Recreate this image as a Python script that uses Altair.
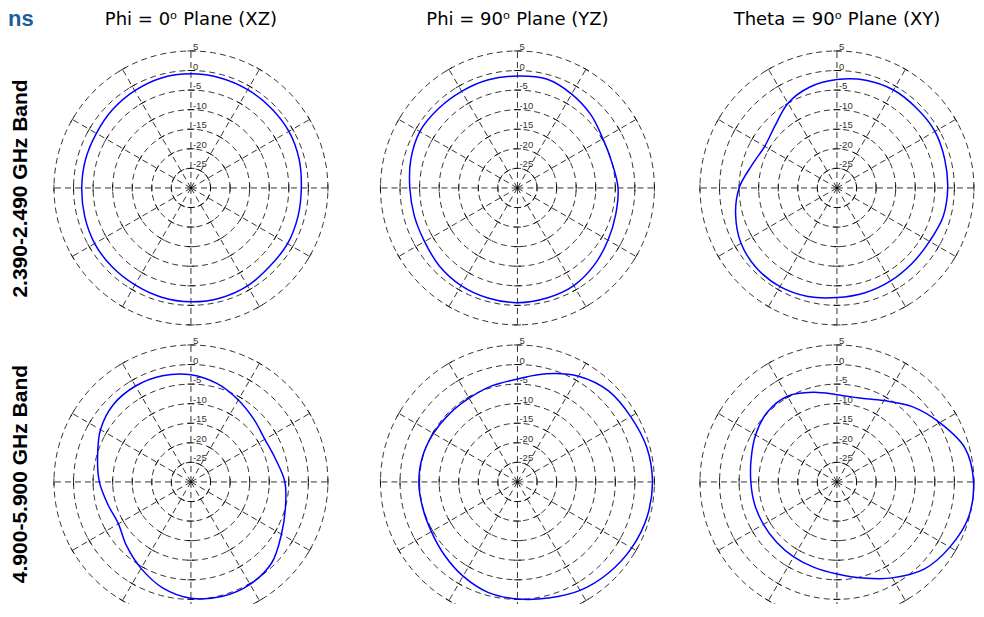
import altair as alt
import numpy as np
import pandas as pd

# ---------------- data (gain in dB) ----------------
ANGLES = list(range(0, 360, 15))  # degrees, counter-clockwise from +x (east)

P_24_XZ = [-1.8, -1.4, -1.1, -1.1, -1.0, -0.9, -0.85, -0.9, -1.3, -1.7, -2.1, -2.1,
           -2.1, -1.9, -1.6, -1.5, -1.4, -1.1, -0.9, -0.9, -1.1, -1.6, -1.5, -1.7]
P_24_YZ = [-4.3, -5.0, -4.8, -3.5, -2.3, -1.2, -1.4, -1.4, -1.5, -1.4, -1.2, -1.8,
           -2.5, -2.7, -2.6, -1.8, -1.2, -0.9, -0.7, -0.9, -1.2, -2.2, -3.3, -4.0]
P_24_XY = [-1.7, -1.5, -1.1, -1.2, -1.1, -1.5, -2.3, -3.3, -5.0, -7.6, -8.7, -7.5,
           -5.0, -3.2, -1.7, -1.0, -0.9, -1.3, -2.0, -2.3, -2.6, -2.8, -2.7, -1.9]
P_5_XZ = [-6.0, -7.6, -8.2, -7.3, -5.8, -4.0, -2.6, -1.9, -1.7, -2.0, -3.3, -5.3,
          -6.6, -8.0, -8.6, -6.8, -4.5, -2.0, -0.3, 0.3, 0.2, -0.8, -3.3, -5.0]
P_5_YZ = [4.5, 4.2, 3.4, 2.9, 1.2, -1.4, -3.7, -4.6, -5.3, -5.4, -5.2, -4.9,
          -4.8, -4.9, -4.6, -3.6, -2.2, -0.8, -0.1, 0.7, 2.0, 2.9, 3.7, 4.3]
P_5_XY = [4.9, 3.8, 0.3, -2.8, -6.0, -7.8, -7.7, -6.3, -4.7, -4.8, -6.0, -7.3,
          -8.0, -8.2, -8.3, -8.2, -7.9, -7.4, -6.5, -4.6, -1.7, 1.5, 3.3, 4.8]

PATTERNS = [[P_24_XZ, P_24_YZ, P_24_XY], [P_5_XZ, P_5_YZ, P_5_XY]]

RINGS = [-25, -20, -15, -10, -5, 0, 5]
RING_LABELS = ["-25", "-20", "-15", "-10", "-5", "0", "5"]
SPOKES = list(range(0, 360, 30))
FLOOR = -30  # dB at the centre

COL_TITLES = ["Phi = 0ᵒ Plane (XZ)", "Phi = 90ᵒ Plane (YZ)", "Theta = 90ᵒ Plane (XY)"]
ROW_TITLES = ["2.390-2.490 GHz Band", "4.900-5.900 GHz  Band"]
CORNER_TEXT = "ns"

# ---------------- geometry helpers ----------------
PPU = 3.914  # pixels per dB


def polar(db, deg):
    u = db - FLOOR
    t = np.deg2rad(deg)
    return u * np.cos(t), u * np.sin(t)


circ_rows = []
for r in RINGS:
    for k, t in enumerate(range(0, 361, 3)):
        x, y = polar(r, t)
        circ_rows.append({"r": r, "t": k, "x": x, "y": y})
circ_df = pd.DataFrame(circ_rows)

rad_rows = []
for a in SPOKES:
    x2, y2 = polar(RINGS[-1], a)
    rad_rows.append({"x": 0.0, "y": 0.0, "x2": x2, "y2": y2})
rad_df = pd.DataFrame(rad_rows)

tick_rows = []
H = 0.9
for a in SPOKES:
    t = np.deg2rad(a)
    px, py = -np.sin(t), np.cos(t)
    for r in RINGS:
        cx, cy = polar(r, a)
        tick_rows.append({"x": cx - H * px, "y": cy - H * py,
                          "x2": cx + H * px, "y2": cy + H * py})
tick_df = pd.DataFrame(tick_rows)

lab_df = pd.DataFrame({"x": [0.0] * len(RINGS),
                       "y": [r - FLOOR for r in RINGS],
                       "label": RING_LABELS})

XDOM = [[-35.5, 37.2], [-35.5, 35.5], [-35.5, 35.5]]
YDOM = [[-35.5, 35.5], [-31.2, 35.5]]
TITLE_OFFSET = [-30, 4, 4]


def panel(row, col):
    vals = PATTERNS[row][col]
    xs, ys = zip(*[polar(v, a) for v, a in zip(vals, ANGLES)])
    curve_df = pd.DataFrame({"i": list(range(len(vals))), "x": xs, "y": ys})

    xsc = alt.Scale(domain=XDOM[col], nice=False, zero=False)
    ysc = alt.Scale(domain=YDOM[row], nice=False, zero=False)
    if col == 0:
        yax = alt.Axis(title=ROW_TITLES[row], labels=False, ticks=False, domain=False,
                       grid=False, titleFont="Liberation Sans", titleFontSize=21,
                       titleFontWeight="bold", titleColor="black", titlePadding=22)
    else:
        yax = None
    X = alt.X("x:Q", scale=xsc, axis=None)
    Y = alt.Y("y:Q", scale=ysc, axis=yax)

    circles = alt.Chart(circ_df).mark_line(
        color="black", strokeWidth=0.8, strokeDash=[6, 4], clip=True
    ).encode(x=X, y=Y, detail="r:N", order="t:Q")
    radials = alt.Chart(rad_df).mark_rule(
        color="black", strokeWidth=0.8, strokeDash=[6, 4], clip=True
    ).encode(x=X, y=Y, x2="x2:Q", y2="y2:Q")
    ticks = alt.Chart(tick_df).mark_rule(
        color="black", strokeWidth=0.8, clip=True
    ).encode(x=X, y=Y, x2="x2:Q", y2="y2:Q")
    labels = alt.Chart(lab_df).mark_text(
        align="left", baseline="alphabetic", dx=2, dy=-1, fontSize=9.5,
        font="Liberation Sans", color="#333333"
    ).encode(x=X, y=Y, text="label:N")
    curve = alt.Chart(curve_df).mark_line(
        color="#0000ff", strokeWidth=1.5, interpolate="cardinal-closed", clip=True
    ).encode(x=X, y=Y, order="i:Q")

    layers = [circles, radials, ticks, labels, curve]
    if row == 0 and col == 0:
        corner = alt.Chart(pd.DataFrame({"t": [CORNER_TEXT]})).mark_text(
            align="left", baseline="top", fontSize=22, fontWeight="bold",
            font="Liberation Sans", color="#1f5c9a"
        ).encode(x=alt.value(-44), y=alt.value(-40), text="t:N")
        layers.append(corner)

    w = (XDOM[col][1] - XDOM[col][0]) * PPU
    h = (YDOM[row][1] - YDOM[row][0]) * PPU
    ch = alt.layer(*layers).properties(width=w, height=h)
    if row == 0:
        shift = -(XDOM[col][1] + XDOM[col][0]) / 2 * PPU
        ch = ch.properties(title=alt.TitleParams(
            text=COL_TITLES[col], font="DejaVu Sans", fontSize=18, fontWeight="normal",
            color="black", anchor="middle", baseline="middle", frame="group",
            offset=TITLE_OFFSET[col], dx=shift))
    return ch


panels = [panel(r, c) for r in range(2) for c in range(3)]
chart = alt.concat(*panels, columns=3, spacing={"row": 16, "column": 41.5},
                   bounds="flush").properties(padding=0).configure_view(strokeWidth=0)

chart.save("out.html", embed_options={"renderer": "svg", "actions": False})
